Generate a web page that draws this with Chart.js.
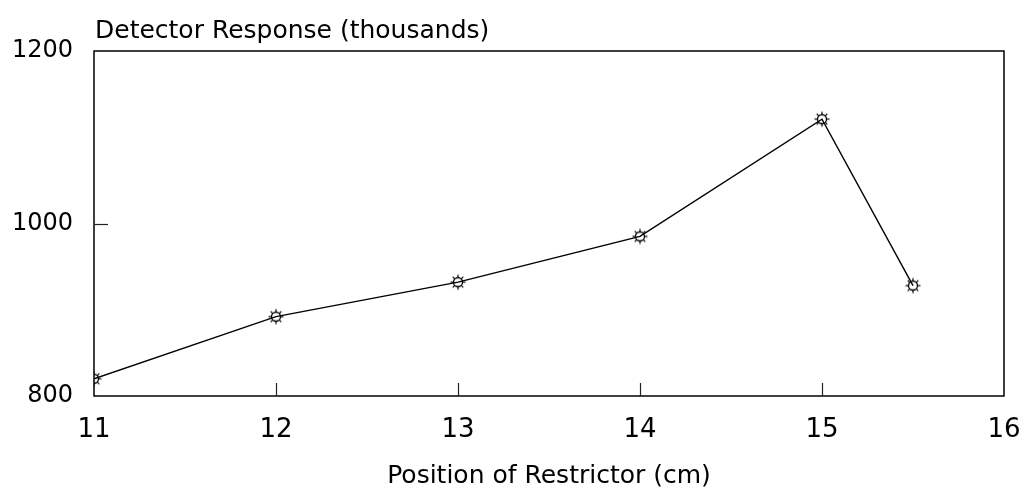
<!DOCTYPE html>
<html>
<head>
<meta charset="utf-8">
<script src="https://cdn.jsdelivr.net/npm/chart.js@4.4.1/dist/chart.umd.min.js"></script>
<style>
    html, body { margin: 0; padding: 0; background: #fff; }
    #wrap { width: 1028px; height: 493px; }
</style>
</head>
<body>
<div id="wrap"><canvas id="chart" width="1028" height="493"></canvas></div>
<script>
// data
const positions = [11, 12, 13, 14, 15, 15.5];
const responses = [820, 892, 932, 985, 1121, 928];
const xTicks = [11, 12, 13, 14, 15, 16];
const yTicks = [800, 1000, 1200];
const yTitle = 'Detector Response (thousands)';
const xTitle = 'Position of Restrictor (cm)';

const FONT = 'DejaVu Sans';

// little "sun" marker: open circle with short rays
function makeMarker() {
    let c = document.createElement('canvas');
    c.width = 20; c.height = 20;
    let g = c.getContext('2d');
    g.strokeStyle = '#000';
    g.lineWidth = 1.3;
    g.beginPath();
    g.arc(10, 10, 4.5, 0, Math.PI * 2);
    g.stroke();
    g.lineWidth = 1.2;
    for (let i = 0; i < 8; i++) {
        let a = i * Math.PI / 4;
        g.beginPath();
        g.moveTo(10 + Math.cos(a) * 4.5, 10 + Math.sin(a) * 4.5);
        g.lineTo(10 + Math.cos(a) * 7.5, 10 + Math.sin(a) * 7.5);
        g.stroke();
    }
    return c;
}

// frame, inside ticks and the top-left axis title
const framePlugin = {
    id: 'frame',
    afterDraw(chart) {
        const ctx = chart.ctx;
        const a = chart.chartArea;
        const xs = chart.scales.x, ys = chart.scales.y;
        ctx.save();
        ctx.strokeStyle = '#000';
        ctx.lineWidth = 1.5;
        ctx.strokeRect(a.left, a.top, a.right - a.left, a.bottom - a.top);
        ctx.lineWidth = 1.2;
        ctx.strokeStyle = '#222';
        xTicks.slice(1, -1).forEach(v => {
            let px = Math.round(xs.getPixelForValue(v)) + 0.5;
            ctx.beginPath();
            ctx.moveTo(px, a.bottom);
            ctx.lineTo(px, a.bottom - 13);
            ctx.stroke();
        });
        yTicks.slice(1, -1).forEach(v => {
            let py = Math.round(ys.getPixelForValue(v)) + 0.5;
            ctx.beginPath();
            ctx.moveTo(a.left, py);
            ctx.lineTo(a.left + 14, py);
            ctx.stroke();
        });
        ctx.fillStyle = '#000';
        ctx.font = '25px "' + FONT + '"';
        ctx.textAlign = 'left';
        ctx.textBaseline = 'alphabetic';
        ctx.fillText(yTitle, a.left + 1, 38);
        ctx.restore();
    }
};

const data = {
    datasets: [{
            data: positions.map((x, i) => ({x: x, y: responses[i]})),
            showLine: true,
            borderColor: '#000',
            borderWidth: 1.4,
            pointStyle: makeMarker(),
            pointRadius: 8,
            fill: false,
            tension: 0
        }]
};

const config = {
    type: 'scatter',
    data: data,
    options: {
        responsive: false,
        animation: false,
        layout: {padding: {top: 51, left: 0, right: 24, bottom: 0}},
        plugins: {legend: {display: false}, tooltip: {enabled: false}},
        scales: {
            x: {
                type: 'linear',
                min: 11, max: 16,
                afterBuildTicks: s => { s.ticks = xTicks.map(v => ({value: v})); },
                afterFit: s => { s.height = 97; s.paddingLeft = 0; s.paddingRight = 0; },
                grid: {display: false, drawTicks: false},
                border: {display: false},
                ticks: {color: '#000', font: {family: FONT, size: 26}, padding: 19, maxRotation: 0, autoSkip: false,
                    callback: v => String(v)},
                title: {display: true, text: xTitle, color: '#000', font: {family: FONT, size: 25}, padding: {top: 0, bottom: 2}}
            },
            y: {
                type: 'linear',
                min: 800, max: 1200,
                afterBuildTicks: s => { s.ticks = yTicks.map(v => ({value: v})); },
                afterFit: s => { s.width = 94; },
                grid: {display: false, drawTicks: false},
                border: {display: false},
                ticks: {color: '#000', font: {family: FONT, size: 24}, padding: 21,
                    callback: v => String(v)}
            }
        }
    },
    plugins: [framePlugin]
};

let ctx = document.getElementById('chart').getContext('2d');
new Chart(ctx, config);
</script>
</body>
</html>
